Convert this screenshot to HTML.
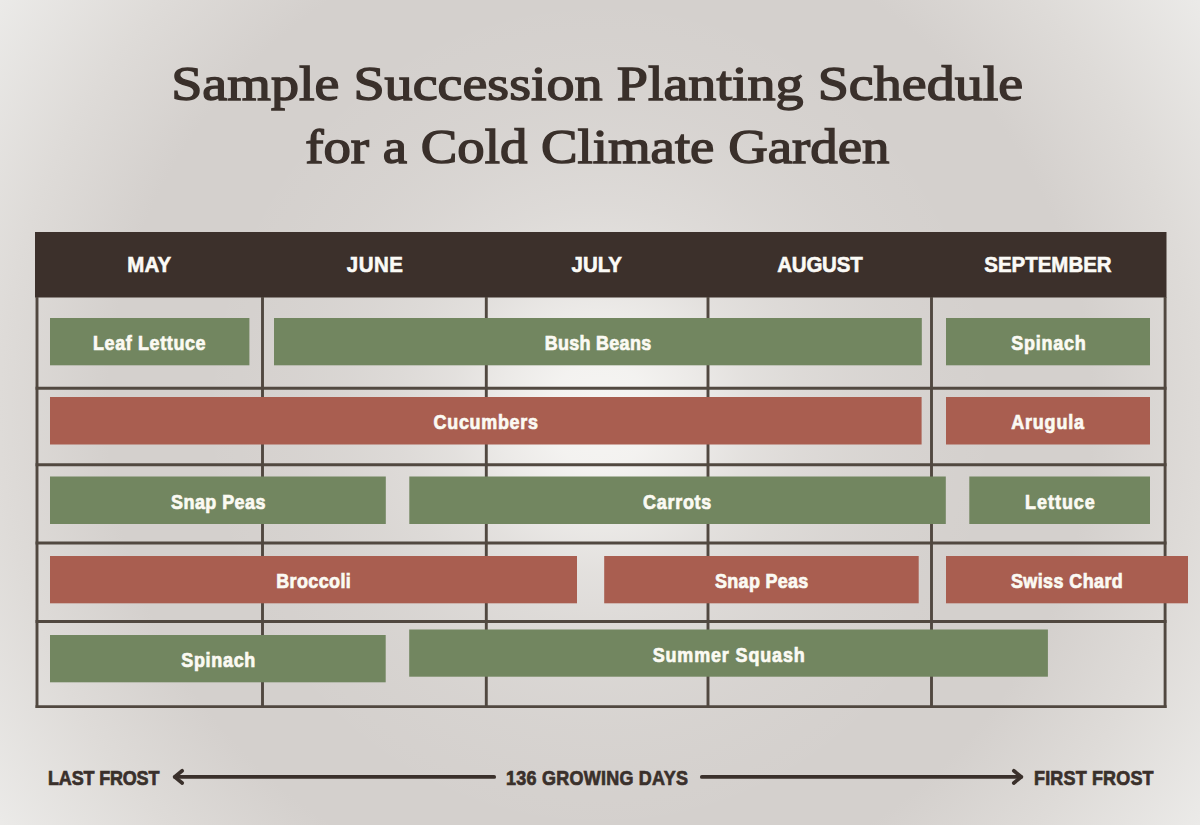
<!DOCTYPE html>
<html><head><meta charset="utf-8">
<style>
html,body{margin:0;padding:0;}
body{width:1200px;height:825px;overflow:hidden;position:relative;background:#d5d1ce;font-family:"Liberation Sans",sans-serif;}
#bg{position:absolute;left:0;top:0;width:1200px;height:825px;
 background:
  radial-gradient(ellipse 400px 420px at 600px 415px, rgba(246,245,243,1) 0%, rgba(246,245,243,0.92) 12.5%, rgba(246,245,243,0.70) 25%, rgba(246,245,243,0.44) 37.5%, rgba(246,245,243,0.28) 50%, rgba(246,245,243,0.17) 62.5%, rgba(246,245,243,0.09) 75%, rgba(246,245,243,0.04) 87.5%, rgba(246,245,243,0) 100%),
  radial-gradient(circle 600px at 600px 412px, #d4d0cd 0%, #d4d0cd 82%, #dedbd8 100%, #ebeae8 121%);
}
.title{position:absolute;left:0;width:1200px;text-align:center;font-family:"Liberation Serif",serif;font-weight:normal;color:#3a302b;font-size:49px;-webkit-text-stroke:1.4px #3a302b;white-space:nowrap;line-height:56px;}
.title span{display:inline-block;transform-origin:50% 50%;}
.t{position:absolute;white-space:nowrap;font-weight:bold;text-align:center;line-height:22px;}
.t span{display:inline-block;transform-origin:50% 50%;}
.hd{color:#fbfaf6;font-size:22.5px;-webkit-text-stroke:0.6px #fbfaf6;}
.lb{color:#fbfaf3;font-size:19.5px;-webkit-text-stroke:0.7px #fbfaf3;}
.ft{color:#3a302b;font-size:19.5px;text-align:left;-webkit-text-stroke:0.7px #3a302b;}
.ft span{transform-origin:0 50%;}
svg{position:absolute;left:0;top:0;}
</style></head><body>
<div id="bg"></div>
<div class="title" style="top:56px;left:-2.50px"><span style="transform:scaleX(1.1446)">Sample Succession Planting Schedule</span></div>
<div class="title" style="top:119.2px;left:-2.50px"><span style="transform:scaleX(1.1180)">for a Cold Climate Garden</span></div>
<svg width="1200" height="825" viewBox="0 0 1200 825">
 <rect x="35" y="232" width="1131.5" height="65.5" fill="#3c302b"/>
 <g stroke="#514840" stroke-width="2.9" fill="none">
  <line x1="37" y1="297" x2="37" y2="708.05"/>
  <line x1="262.5" y1="297" x2="262.5" y2="708.05"/>
  <line x1="486.3" y1="297" x2="486.3" y2="708.05"/>
  <line x1="708" y1="297" x2="708" y2="708.05"/>
  <line x1="931.5" y1="297" x2="931.5" y2="708.05"/>
  <line x1="1165.1" y1="297" x2="1165.1" y2="708.05"/>
  <line x1="35.55" y1="388.2" x2="1166.55" y2="388.2"/>
  <line x1="35.55" y1="464.8" x2="1166.55" y2="464.8"/>
  <line x1="35.55" y1="543" x2="1166.55" y2="543"/>
  <line x1="35.55" y1="621.5" x2="1166.55" y2="621.5"/>
  <line x1="35.55" y1="706.6" x2="1166.55" y2="706.6"/>
 </g>
 <rect x="50" y="318" width="199.40" height="47.30" fill="#728660"/>
 <rect x="274" y="318" width="647.80" height="47.30" fill="#728660"/>
 <rect x="946" y="318" width="204.00" height="47.30" fill="#728660"/>
 <rect x="50" y="397" width="871.60" height="47.50" fill="#a95e50"/>
 <rect x="946" y="397" width="204.00" height="47.50" fill="#a95e50"/>
 <rect x="50" y="476.5" width="335.80" height="47.50" fill="#728660"/>
 <rect x="409.3" y="476.5" width="536.50" height="47.50" fill="#728660"/>
 <rect x="969.3" y="476.5" width="180.70" height="47.50" fill="#728660"/>
 <rect x="50" y="556" width="527.00" height="47.30" fill="#a95e50"/>
 <rect x="604.2" y="556" width="314.50" height="47.30" fill="#a95e50"/>
 <rect x="946" y="556" width="242.00" height="47.30" fill="#a95e50"/>
 <rect x="50" y="635" width="335.70" height="47.30" fill="#728660"/>
 <rect x="409.2" y="629.5" width="638.70" height="47.20" fill="#728660"/>
 <g stroke="#3a302b" stroke-width="3.7" stroke-linecap="round" stroke-linejoin="round" fill="none">
  <line x1="175" y1="776.9" x2="494.2" y2="776.9"/>
  <polyline points="182.2,770.8 174.6,776.9 182.2,783"/>
  <line x1="701.8" y1="776.9" x2="1021" y2="776.9"/>
  <polyline points="1013.8,770.8 1021.4,776.9 1013.8,783"/>
 </g>
</svg>
<div class="t hd" style="left:36.50px;width:226.00px;top:254px"><span style="transform:scaleX(0.9100);letter-spacing:0.165px;margin-left:0.165px">MAY</span></div>
<div class="t hd" style="left:262.50px;width:223.80px;top:254px"><span style="transform:scaleX(0.9100);letter-spacing:0.549px;margin-left:0.549px">JUNE</span></div>
<div class="t hd" style="left:486.30px;width:221.70px;top:254px"><span style="transform:scaleX(0.9100)">JULY</span></div>
<div class="t hd" style="left:708.00px;width:223.50px;top:254px"><span style="transform:scaleX(0.9100);letter-spacing:-0.220px;margin-left:-0.220px">AUGUST</span></div>
<div class="t hd" style="left:931.50px;width:233.50px;top:254px"><span style="transform:scaleX(0.9100);letter-spacing:-0.014px;margin-left:-0.014px">SEPTEMBER</span></div>
<div class="t lb" style="left:50.00px;width:199.40px;top:332.15px"><span style="transform:scaleX(0.9200);letter-spacing:0.692px;margin-left:0.692px">Leaf Lettuce</span></div>
<div class="t lb" style="left:274.00px;width:647.80px;top:332.15px"><span style="transform:scaleX(0.9200);letter-spacing:0.338px;margin-left:0.338px">Bush Beans</span></div>
<div class="t lb" style="left:946.00px;width:204.00px;top:332.15px"><span style="transform:scaleX(0.9200);letter-spacing:0.833px;margin-left:0.833px">Spinach</span></div>
<div class="t lb" style="left:50.00px;width:871.60px;top:411.25px"><span style="transform:scaleX(0.9200);letter-spacing:0.774px;margin-left:0.774px">Cucumbers</span></div>
<div class="t lb" style="left:946.00px;width:204.00px;top:411.25px"><span style="transform:scaleX(0.9200);letter-spacing:0.906px;margin-left:0.906px">Arugula</span></div>
<div class="t lb" style="left:50.00px;width:335.80px;top:490.75px"><span style="transform:scaleX(0.9200);letter-spacing:0.476px;margin-left:0.476px">Snap Peas</span></div>
<div class="t lb" style="left:409.30px;width:536.50px;top:490.75px"><span style="transform:scaleX(0.9200);letter-spacing:0.815px;margin-left:0.815px">Carrots</span></div>
<div class="t lb" style="left:969.30px;width:180.70px;top:490.75px"><span style="transform:scaleX(0.9200);letter-spacing:1.069px;margin-left:1.069px">Lettuce</span></div>
<div class="t lb" style="left:50.00px;width:527.00px;top:570.15px"><span style="transform:scaleX(0.9200);letter-spacing:0.419px;margin-left:0.419px">Broccoli</span></div>
<div class="t lb" style="left:604.20px;width:314.50px;top:570.15px"><span style="transform:scaleX(0.9200);letter-spacing:0.340px;margin-left:0.340px">Snap Peas</span></div>
<div class="t lb" style="left:946.00px;width:242.00px;top:570.15px"><span style="transform:scaleX(0.9200);letter-spacing:0.457px;margin-left:0.457px">Swiss Chard</span></div>
<div class="t lb" style="left:50.00px;width:335.70px;top:649.15px"><span style="transform:scaleX(0.9200);letter-spacing:0.770px;margin-left:0.770px">Spinach</span></div>
<div class="t lb" style="left:409.20px;width:638.70px;top:643.60px"><span style="transform:scaleX(0.9200);letter-spacing:0.951px;margin-left:0.951px">Summer Squash</span></div>
<div class="t ft" style="left:47.70px;top:767px"><span style="transform:scaleX(0.9200);letter-spacing:-0.145px">LAST FROST</span></div>
<div class="t ft" style="left:506.00px;top:767px"><span style="transform:scaleX(0.9200);letter-spacing:0.297px">136 GROWING DAYS</span></div>
<div class="t ft" style="left:1034.40px;top:767px"><span style="transform:scaleX(0.9200);letter-spacing:0.207px">FIRST FROST</span></div>
</body></html>
